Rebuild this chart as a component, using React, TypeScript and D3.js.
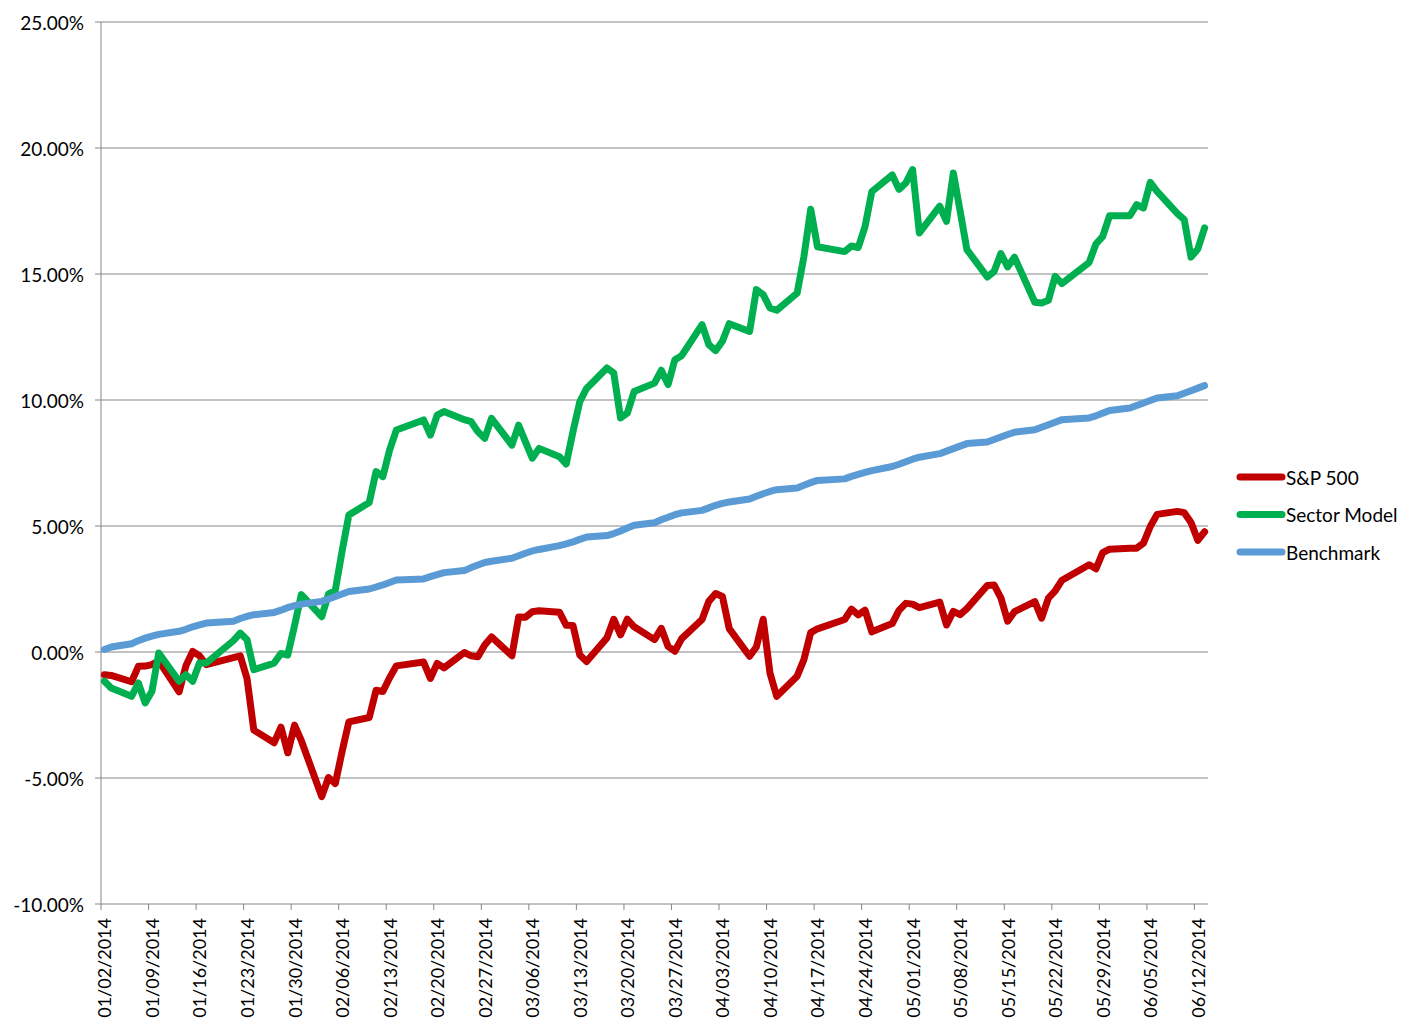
import { scaleUtc, scaleLinear, line, utcDay, utcFormat, formatLocale } from "d3";

// trading days, MM/DD of 2014
const DATES = [
  "01/02", "01/03", "01/06", "01/07", "01/08", "01/09", "01/10", "01/13", "01/14", "01/15",
  "01/16", "01/17", "01/21", "01/22", "01/23", "01/24", "01/27", "01/28", "01/29", "01/30",
  "01/31", "02/03", "02/04", "02/05", "02/06", "02/07", "02/10", "02/11", "02/12", "02/13",
  "02/14", "02/18", "02/19", "02/20", "02/21", "02/24", "02/25", "02/26", "02/27", "02/28",
  "03/03", "03/04", "03/05", "03/06", "03/07", "03/10", "03/11", "03/12", "03/13", "03/14",
  "03/17", "03/18", "03/19", "03/20", "03/21", "03/24", "03/25", "03/26", "03/27", "03/28",
  "03/31", "04/01", "04/02", "04/03", "04/04", "04/07", "04/08", "04/09", "04/10", "04/11",
  "04/14", "04/15", "04/16", "04/17", "04/21", "04/22", "04/23", "04/24", "04/25", "04/28",
  "04/29", "04/30", "05/01", "05/02", "05/05", "05/06", "05/07", "05/08", "05/09", "05/12",
  "05/13", "05/14", "05/15", "05/16", "05/19", "05/20", "05/21", "05/22", "05/23", "05/27",
  "05/28", "05/29", "05/30", "06/02", "06/03", "06/04", "06/05", "06/06", "06/09", "06/10",
  "06/11", "06/12", "06/13",
];

// returns in percent
const SP500 = [
  -0.9, -0.93, -1.18, -0.57, -0.56, -0.5, -0.35, -1.58, -0.55, 0.02,
  -0.15, -0.5, -0.22, -0.15, -1.05, -3.1, -3.6, -2.98, -4.0, -2.9,
  -3.52, -5.74, -4.98, -5.22, -3.95, -2.77, -2.6, -1.52, -1.57, -1.02,
  -0.55, -0.4, -1.05, -0.45, -0.63, -0.02, -0.15, -0.19, 0.28, 0.6,
  -0.15, 1.39, 1.38, 1.6, 1.64, 1.58, 1.06, 1.05, -0.12, -0.38,
  0.56, 1.3, 0.68, 1.3, 1.0, 0.49, 0.94, 0.22, 0.03, 0.53,
  1.29, 2.01, 2.32, 2.2, 0.93, -0.17, 0.2, 1.3, -0.83, -1.76,
  -0.96, -0.3, 0.77, 0.92, 1.29, 1.7, 1.47, 1.66, 0.8, 1.13,
  1.65, 1.93, 1.9, 1.76, 1.98, 1.07, 1.61, 1.48, 1.72, 2.64,
  2.66, 2.15, 1.22, 1.6, 2.0, 1.34, 2.14, 2.43, 2.85, 3.46,
  3.3, 3.94, 4.08, 4.12, 4.12, 4.32, 4.98, 5.46, 5.58, 5.53,
  5.14, 4.43, 4.77,
];

const SECTOR = [
  -1.16, -1.43, -1.76, -1.23, -2.02, -1.56, -0.04, -1.16, -0.9, -1.16,
  -0.44, -0.44, 0.45, 0.75, 0.49, -0.7, -0.44, -0.06, -0.12, 1.05,
  2.28, 1.4, 2.3, 2.45, 4.0, 5.44, 5.93, 7.16, 6.96, 8.02,
  8.81, 9.21, 8.61, 9.4, 9.54, 9.22, 9.14, 8.74, 8.48, 9.27,
  8.21, 9.0, 8.34, 7.69, 8.08, 7.75, 7.46, 8.75, 9.93, 10.46,
  11.27, 11.07, 9.29, 9.48, 10.34, 10.67, 11.18, 10.61, 11.6, 11.76,
  12.99, 12.2, 11.96, 12.33, 13.03, 12.72, 14.38, 14.18, 13.65, 13.56,
  14.24, 15.69, 17.57, 16.08, 15.89, 16.11, 16.05, 16.88, 18.27, 18.93,
  18.36, 18.61, 19.14, 16.63, 17.69, 17.09, 19.01, 17.5, 15.97, 14.88,
  15.1, 15.81, 15.28, 15.67, 13.88, 13.85, 13.96, 14.91, 14.62, 15.46,
  16.19, 16.49, 17.31, 17.31, 17.75, 17.62, 18.64, 18.28, 17.4, 17.16,
  15.67, 15.99, 16.83,
];

const BENCHMARK = [
  0.1, 0.2, 0.33, 0.45, 0.55, 0.63, 0.7, 0.82, 0.9, 1.0,
  1.08, 1.15, 1.22, 1.33, 1.41, 1.48, 1.57, 1.66, 1.76, 1.84,
  1.9, 2.01, 2.1, 2.2, 2.3, 2.4, 2.5, 2.58, 2.66, 2.76,
  2.86, 2.9, 2.99, 3.07, 3.15, 3.23, 3.35, 3.45, 3.55, 3.6,
  3.72, 3.82, 3.92, 4.01, 4.07, 4.22, 4.29, 4.37, 4.47, 4.56,
  4.62, 4.7, 4.8, 4.92, 5.03, 5.13, 5.25, 5.35, 5.45, 5.52,
  5.62, 5.72, 5.82, 5.9, 5.95, 6.07, 6.18, 6.28, 6.37, 6.44,
  6.51, 6.62, 6.72, 6.81, 6.87, 6.97, 7.05, 7.13, 7.2, 7.36,
  7.45, 7.55, 7.65, 7.73, 7.87, 7.97, 8.07, 8.17, 8.27, 8.33,
  8.43, 8.53, 8.63, 8.72, 8.82, 8.92, 9.02, 9.12, 9.22, 9.29,
  9.37, 9.48, 9.58, 9.68, 9.78, 9.88, 9.98, 10.08, 10.17, 10.27,
  10.37, 10.47, 10.57,
];

const Y_TICKS = [-0.1, -0.05, 0, 0.05, 0.1, 0.15, 0.2, 0.25];

const SERIES = [
  { name: "S&P 500", values: SP500, color: "#C00000" },
  { name: "Sector Model", values: SECTOR, color: "#00B050" },
  { name: "Benchmark", values: BENCHMARK, color: "#5B9BD5" },
];

const W = 1420;
const H = 1031;
const PLOT = { left: 101, right: 1208, top: 22, bottom: 904 };
const FONT = "Lato, 'Open Sans', sans-serif";
const GRID = "#868686";

const toDate = (s: string) => {
  const [m, d] = s.split("/").map(Number);
  return new Date(Date.UTC(2014, m - 1, d));
};

const pct = formatLocale({
  decimal: ".",
  thousands: ",",
  grouping: [3],
  currency: ["$", ""],
  minus: "-",
}).format(".2%");
const fmtDate = utcFormat("%m/%d/%Y");

export default function App() {
  const start = toDate(DATES[0]);
  const end = utcDay.offset(toDate(DATES[DATES.length - 1]), 1);

  // date axis, each day is one slot; points sit in the middle of their slot
  const x = scaleUtc().domain([start, end]).range([PLOT.left, PLOT.right]);
  const y = scaleLinear().domain([-0.1, 0.25]).range([PLOT.bottom, PLOT.top]);
  const halfDay = (x(utcDay.offset(start, 1)) - x(start)) / 2;

  const xTicks = utcDay.range(start, end, 7);

  const path = line<number>()
    .x((_, i) => x(toDate(DATES[i])) + halfDay)
    .y((v) => y(v / 100));

  return (
    <svg
      width={W}
      height={H}
      style={{ position: "absolute", left: 0, top: 0, background: "#fff" }}
      fontFamily={FONT}
    >
      {/* gridlines + y axis labels */}
      {Y_TICKS.map((t) => (
        <g key={t}>
          {t > -0.1 && (
            <line x1={PLOT.left} x2={PLOT.right} y1={y(t)} y2={y(t)} stroke={GRID} strokeWidth={1} />
          )}
          <line x1={PLOT.left - 6} x2={PLOT.left} y1={y(t)} y2={y(t)} stroke={GRID} />
          <text x={84} y={y(t)} textAnchor="end" dominantBaseline="central" fontSize={19} fill="#000">
            {pct(t)}
          </text>
        </g>
      ))}

      {/* axes */}
      <line x1={PLOT.left} x2={PLOT.left} y1={PLOT.top} y2={PLOT.bottom} stroke={GRID} />
      <line x1={PLOT.left} x2={PLOT.right} y1={PLOT.bottom} y2={PLOT.bottom} stroke={GRID} />

      {xTicks.map((d) => (
        <g key={d.getTime()}>
          <line x1={x(d)} x2={x(d)} y1={PLOT.bottom} y2={PLOT.bottom + 6} stroke={GRID} />
          <text
            transform={`translate(${x(d) + halfDay},${PLOT.bottom + 14}) rotate(-90)`}
            textAnchor="end"
            dominantBaseline="central"
            fontSize={18}
            fill="#000"
          >
            {fmtDate(d)}
          </text>
        </g>
      ))}

      {/* series */}
      {SERIES.map((s) => (
        <path
          key={s.name}
          d={path(s.values) || ""}
          fill="none"
          stroke={s.color}
          strokeWidth={7}
          strokeLinejoin="round"
          strokeLinecap="round"
        />
      ))}

      {/* legend */}
      {SERIES.map((s, i) => (
        <g key={s.name} transform={`translate(1238,${477 + i * 37.5})`}>
          <line x1={2} x2={44} y1={0} y2={0} stroke={s.color} strokeWidth={7} strokeLinecap="round" />
          <text x={48} y={0} dominantBaseline="central" fontSize={19} fill="#000">
            {s.name}
          </text>
        </g>
      ))}
    </svg>
  );
}
